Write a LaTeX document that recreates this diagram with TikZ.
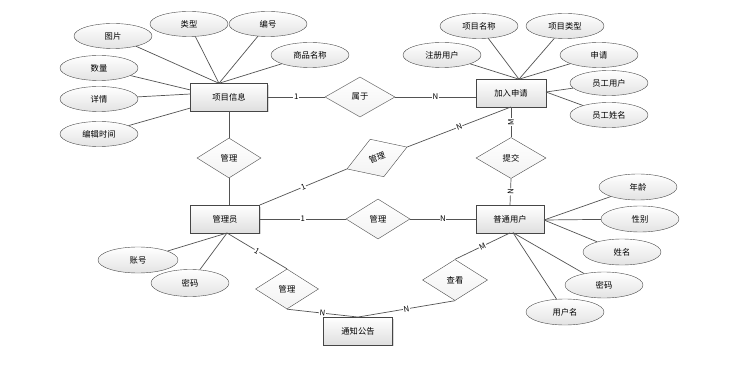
\documentclass[tikz,border=0pt]{standalone}
\usepackage{fontspec}
\setmainfont{Noto Sans CJK SC}
\usetikzlibrary{shapes.geometric,shadows}
\newcommand\myfz{\fontsize{8.3}{10}\selectfont}
\newcommand\mylab{\fontsize{7.8}{9}\selectfont}
\begin{document}
\begin{tikzpicture}[x=1pt,y=-1pt,
  ent/.style={rectangle, draw=gray!55!black, top color=white, bottom color=gray!25,
    minimum height=27.5pt, inner sep=0pt, font=\myfz,
    drop shadow={shadow xshift=1.3pt, shadow yshift=-1.3pt, opacity=0.3}},
  attr/.style={ellipse, draw=gray!60!black, top color=white, bottom color=gray!22,
    minimum width=78pt, minimum height=25pt, inner sep=0pt, font=\myfz},
  rel/.style={diamond, draw=gray!60!black, top color=white, bottom color=gray!10,
    minimum width=64pt, minimum height=40pt, inner sep=0pt, font=\myfz},
  conn/.style={draw=gray!65!black, line width=0.7pt},
  card/.style={midway, sloped, fill=white, inner sep=0.6pt, font=\mylab}]
\useasboundingbox[fill=white] (0,0) rectangle (744,366);

% entities
\node[ent, minimum width=77pt] (pinfo) at (229,97) {项目信息};
\node[ent, minimum width=70pt] (join) at (511,93) {加入申请};
\node[ent, minimum width=69pt] (adm) at (225,219) {管理员};
\node[ent, minimum width=68pt] (user) at (510,219) {普通用户};
\node[ent, minimum width=69pt] (notice) at (358,331) {通知公告};

% relationships
\node[rel, minimum width=70pt] (belong) at (360,97) {属于};
\node[rel] (m1) at (229,158) {管理};
\node[rel, rotate=20] (m2) at (377,158) {管理};
\node[rel] (m3) at (378,219) {管理};
\node[rel, minimum width=70pt, minimum height=41pt] (submit) at (511,158) {提交};
\node[rel, minimum width=65pt, minimum height=41pt] (view) at (455,280) {查看};
\node[rel, minimum width=63pt] (m4) at (287,289) {管理};

% attributes of 项目信息
\node[attr] (a1) at (113,36) {图片};
\node[attr] (a2) at (189,24) {类型};
\node[attr] (a3) at (268,24) {编号};
\node[attr] (a4) at (310,55) {商品名称};
\node[attr] (a5) at (99,68) {数量};
\node[attr] (a6) at (99,99) {详情};
\node[attr] (a7) at (99,134) {编辑时间};
% attributes of 加入申请
\node[attr] (b1) at (479,26) {项目名称};
\node[attr] (b2) at (565,26) {项目类型};
\node[attr] (b3) at (442,55) {注册用户};
\node[attr] (b4) at (599,55) {申请};
\node[attr] (b5) at (609,83) {员工用户};
\node[attr] (b6) at (609,115) {员工姓名};
% attributes of 普通用户
\node[attr, minimum height=26pt] (c1) at (638,187) {年龄};
\node[attr, minimum height=26pt] (c2) at (640,219) {性别};
\node[attr, minimum height=26pt] (c3) at (622,252) {姓名};
\node[attr, minimum height=26pt] (c4) at (604,285) {密码};
\node[attr, minimum height=26pt] (c5) at (565,312) {用户名};
% attributes of 管理员
\node[attr, minimum width=80pt, minimum height=26pt] (d1) at (138,260) {账号};
\node[attr, minimum height=27pt] (d2) at (190,283) {密码};

% convergence points
\coordinate (pt) at (219,83.3);
\coordinate (p5) at (190.5,90);
\coordinate (p6) at (190.5,94);
\coordinate (p7) at (190.5,108);
\coordinate (jt) at (519,79.2);
\coordinate (jr) at (546,92);
\coordinate (ur) at (544,220);
\coordinate (ub) at (513,232.7);
\coordinate (ab) at (227,233);

% attribute lines
\foreach \n in {a1,a2,a3,a4} \draw[conn] (\n) -- (pt);
\draw[conn] (a5) -- (p5);
\draw[conn] (a6) -- (p6);
\draw[conn] (a7) -- (p7);
\foreach \n in {b1,b2,b3,b4} \draw[conn] (\n) -- (jt);
\foreach \n in {b5,b6} \draw[conn] (\n) -- (jr);
\foreach \n in {c1,c2,c3} \draw[conn] (\n) -- (ur);
\foreach \n in {c4,c5} \draw[conn] (\n) -- (ub);
\foreach \n in {d1,d2} \draw[conn] (\n) -- (ab);

% relationship lines
\draw[conn] (pinfo.east) -- node[card]{1} (belong.west);
\draw[conn] (belong.east) -- node[card]{N} (join.west |- belong.east);
\draw[conn] (pinfo.south) -- (m1.north);
\draw[conn] (m1.south) -- (adm.north -| m1.south);
\draw[conn] (adm.north east) -- node[card]{1} (m2.west);
\draw[conn] (m2.east) -- node[card]{N} (join.south);
\draw[conn] (adm.east) -- node[card]{1} (m3.west);
\draw[conn] (m3.east) -- node[card]{N} (user.west);
\draw[conn] (user.north) -- node[card]{N} (submit.south);
\draw[conn] (submit.north) -- node[card]{M} (join.south);
\draw[conn] (ab) -- node[card]{1} (m4.north);
\draw[conn] (m4.south) -- node[card]{N} (notice.north);
\draw[conn] (notice.north) -- node[card]{N} (view.south);
\draw[conn] (view.north) -- node[card]{M} (user.south);
\end{tikzpicture}
\end{document}
